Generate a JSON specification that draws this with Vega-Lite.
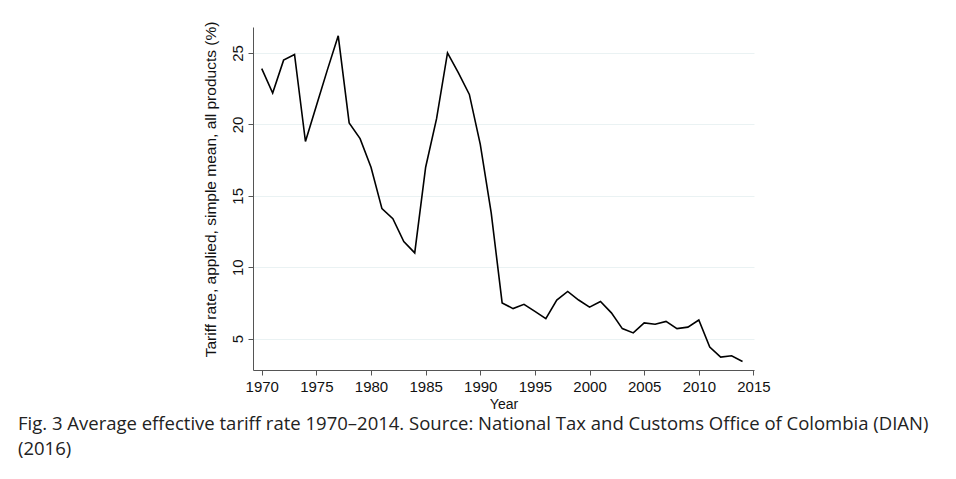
{
  "$schema": "https://vega.github.io/schema/vega-lite/v6.json",
  "autosize": {"type": "none"},
  "padding": {"left": 253, "top": 27, "right": 202, "bottom": 109},
  "width": 501,
  "height": 343,
  "background": "white",
  "config": {
    "view": {"stroke": null},
    "font": "Liberation Sans",
    "axis": {
      "domainColor": "#555555",
      "tickColor": "#555555",
      "labelColor": "#111111",
      "titleColor": "#111111",
      "labelFont": "Liberation Sans",
      "titleFont": "Liberation Sans",
      "labelFontSize": 15,
      "titleFontSize": 15,
      "titleFontWeight": "normal",
      "tickSize": 5,
      "gridColor": "#eaf2f3",
      "gridWidth": 1
    }
  },
  "title": {
    "text": ["Fig. 3  Average effective tariff rate 1970–2014. Source: National Tax and Customs Office of Colombia (DIAN)", "(2016)"],
    "orient": "bottom",
    "anchor": "start",
    "frame": "group",
    "dx": -235,
    "offset": 4,
    "baseline": "top",
    "font": "Open Sans",
    "fontSize": 18.5,
    "fontWeight": "normal",
    "color": "#222222",
    "lineHeight": 25
  },
  "data": {
    "values": [
      {"year": 1970, "rate": 23.9},
      {"year": 1971, "rate": 22.2},
      {"year": 1972, "rate": 24.5},
      {"year": 1973, "rate": 24.9},
      {"year": 1974, "rate": 18.8},
      {"year": 1975, "rate": 21.3},
      {"year": 1976, "rate": 23.8},
      {"year": 1977, "rate": 26.2},
      {"year": 1978, "rate": 20.1},
      {"year": 1979, "rate": 19.0},
      {"year": 1980, "rate": 17.0},
      {"year": 1981, "rate": 14.1},
      {"year": 1982, "rate": 13.4},
      {"year": 1983, "rate": 11.8},
      {"year": 1984, "rate": 11.0},
      {"year": 1985, "rate": 17.0},
      {"year": 1986, "rate": 20.4},
      {"year": 1987, "rate": 25.0},
      {"year": 1988, "rate": 23.6},
      {"year": 1989, "rate": 22.1},
      {"year": 1990, "rate": 18.6},
      {"year": 1991, "rate": 13.8},
      {"year": 1992, "rate": 7.5},
      {"year": 1993, "rate": 7.1},
      {"year": 1994, "rate": 7.4},
      {"year": 1995, "rate": 6.9},
      {"year": 1996, "rate": 6.4},
      {"year": 1997, "rate": 7.7},
      {"year": 1998, "rate": 8.3},
      {"year": 1999, "rate": 7.7},
      {"year": 2000, "rate": 7.2},
      {"year": 2001, "rate": 7.6},
      {"year": 2002, "rate": 6.8},
      {"year": 2003, "rate": 5.7},
      {"year": 2004, "rate": 5.4},
      {"year": 2005, "rate": 6.1},
      {"year": 2006, "rate": 6.0},
      {"year": 2007, "rate": 6.2},
      {"year": 2008, "rate": 5.7},
      {"year": 2009, "rate": 5.8},
      {"year": 2010, "rate": 6.3},
      {"year": 2011, "rate": 4.4},
      {"year": 2012, "rate": 3.7},
      {"year": 2013, "rate": 3.8},
      {"year": 2014, "rate": 3.4}
    ]
  },
  "mark": {"type": "line", "color": "#000000", "strokeWidth": 1.6},
  "encoding": {
    "x": {
      "field": "year",
      "type": "quantitative",
      "scale": {"domain": [1969.2, 2015.05], "nice": false, "zero": false},
      "axis": {
        "title": "Year",
        "values": [1970, 1975, 1980, 1985, 1990, 1995, 2000, 2005, 2010, 2015],
        "format": "d",
        "grid": false,
        "labelPadding": 4,
        "titlePadding": 3,
        "titleFontSize": 14,
        "labelFlush": false
      }
    },
    "y": {
      "field": "rate",
      "type": "quantitative",
      "scale": {"domain": [2.8, 26.82], "nice": false, "zero": false},
      "axis": {
        "title": "Tariff rate, applied, simple mean, all products (%)",
        "titleFontSize": 15.5,
        "titleY": 162,
        "values": [5, 10, 15, 20, 25],
        "grid": true,
        "labelAngle": -90,
        "labelAlign": "center",
        "labelBaseline": "alphabetic",
        "labelPadding": 6,
        "titlePadding": 12,
        "labelFlush": false
      }
    }
  }
}
